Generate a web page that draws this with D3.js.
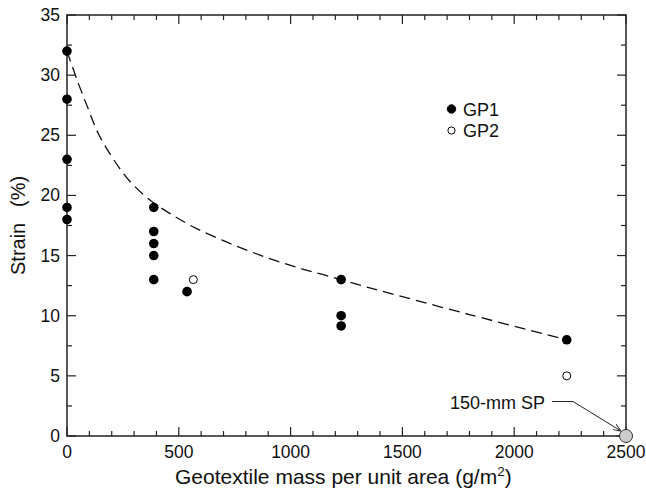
<!DOCTYPE html>
<html><head><meta charset="utf-8">
<script src="https://cdn.jsdelivr.net/npm/d3@7"></script>
<style>
html,body{margin:0;padding:0;background:#fff;}
text{font-family:"Liberation Sans",Arial,sans-serif;fill:#111;}
</style></head>
<body><svg id="c" width="646" height="490"></svg>
<script>
// Data
const gp1 = [[0,32],[0,28],[0,23],[0,19],[0,18],[388,19],[388,17],[388,16],[388,15],[388,13],[537,12],[1226,13],[1226,10],[1226,9.15],[2235,8]];
const gp2 = [[565,13],[2235,5]];
const sp150 = [[2500,0]];
const fitCurve = [[0,32],[45,29.6],[97,27.1],[141,25.1],[201,23.2],[275,21.3],[372,19.6],[469,18.4],[573,17.3],[692,16.3],[811,15.4],[930,14.6],[1049,13.9],[1168,13.3],[1317,12.5],[1397,12.1],[1799,10.1],[2235,8.0]];
const xTicks = [0,500,1000,1500,2000,2500];
const yTicks = [0,5,10,15,20,25,30,35];
const legendLabels = ["GP1","GP2"];

const svg = d3.select("#c");
const L=67,R=626,T=15,B=436;
const x = d3.scaleLinear().domain([0,2500]).range([L,R]);
const y = d3.scaleLinear().domain([0,35]).range([B,T]);
const col="#222";

// frame
svg.append("rect").attr("x",L).attr("y",T).attr("width",R-L).attr("height",B-T)
  .attr("fill","none").attr("stroke",col).attr("stroke-width",1.5);

const xMinor = d3.range(0,2501,100);
const yMinor = d3.range(0,35.01,2.5);
function tlen(v,step){return Math.abs(v/step-Math.round(v/step))<1e-6?9:5;}
const tg = svg.append("g").attr("stroke",col).attr("stroke-width",1.2);
xMinor.forEach(v=>{const l=tlen(v,500);
  tg.append("line").attr("x1",x(v)).attr("x2",x(v)).attr("y1",B).attr("y2",B-l);
  tg.append("line").attr("x1",x(v)).attr("x2",x(v)).attr("y1",T).attr("y2",T+l);});
yMinor.forEach(v=>{const l=tlen(v,5);
  tg.append("line").attr("y1",y(v)).attr("y2",y(v)).attr("x1",L).attr("x2",L+l);
  tg.append("line").attr("y1",y(v)).attr("y2",y(v)).attr("x1",R).attr("x2",R-l);});

// tick labels
svg.append("g").selectAll("text").data(xTicks).join("text")
  .attr("x",d=>x(d)).attr("y",B+22).attr("text-anchor","middle").attr("font-size",17.5).text(d=>d);
svg.append("g").selectAll("text").data(yTicks).join("text")
  .attr("x",L-7).attr("y",d=>y(d)+6).attr("text-anchor","end").attr("font-size",17.5).text(d=>d);

// axis titles
const xt = svg.append("text").attr("x",175).attr("y",484).attr("text-anchor","start").attr("font-size",21);
xt.append("tspan").text("Geotextile mass per unit area (g/m");
xt.append("tspan").attr("font-size",13.5).attr("dy",-8).text("2");
xt.append("tspan").attr("dy",8).text(")");
const yt = svg.append("g").attr("transform","translate(25,0) rotate(-90)");
yt.append("text").attr("x",-275).attr("y",0).attr("font-size",20).text("Strain");
yt.append("text").attr("x",-207).attr("y",0).attr("font-size",20).text("(%)");

// fit curve
svg.append("path").datum(fitCurve)
  .attr("d",d3.line().x(d=>x(d[0])).y(d=>y(d[1])).curve(d3.curveCatmullRom))
  .attr("fill","none").attr("stroke","#111").attr("stroke-width",1.3).attr("stroke-dasharray","11,6");

// points
svg.append("g").selectAll("circle").data(gp1).join("circle")
  .attr("cx",d=>x(d[0])).attr("cy",d=>y(d[1])).attr("r",4.8).attr("fill","#000");
svg.append("g").selectAll("circle").data(gp2).join("circle")
  .attr("cx",d=>x(d[0])).attr("cy",d=>y(d[1])).attr("r",4).attr("fill","#fff").attr("stroke","#000").attr("stroke-width",1);

// annotation
svg.append("defs").append("marker").attr("id","ah").attr("viewBox","0 0 10 10").attr("refX",10).attr("refY",5)
  .attr("markerWidth",8).attr("markerHeight",8).attr("orient","auto-start-reverse")
  .append("path").attr("d","M0,1 L10,5 L0,9").attr("fill","none").attr("stroke","#222").attr("stroke-width",1.2);
const sx=x(sp150[0][0]), sy=y(sp150[0][1]);
svg.append("path").attr("d",`M552,401.5 L573,401.5 L${sx-5},${sy-5}`)
  .attr("fill","none").attr("stroke","#222").attr("stroke-width",1).attr("marker-end","url(#ah)");
svg.append("text").attr("x",545).attr("y",408.5).attr("text-anchor","end").attr("font-size",18).text("150-mm SP");
svg.append("g").selectAll("circle").data(sp150).join("circle")
  .attr("cx",d=>x(d[0])).attr("cy",d=>y(d[1])).attr("r",6.5).attr("fill","#ccc").attr("stroke","#333").attr("stroke-width",1);

// legend
const lg = svg.append("g");
legendLabels.forEach((lab,i)=>{
  const cy = 109 + i*21.5;
  lg.append("circle").attr("cx",451.5).attr("cy",cy).attr("r",i?3.6:4.2)
    .attr("fill",i?"#fff":"#000").attr("stroke","#000").attr("stroke-width",1);
  lg.append("text").attr("x",463).attr("y",cy+6.5).attr("font-size",18).text(lab);
});
</script></body></html>
